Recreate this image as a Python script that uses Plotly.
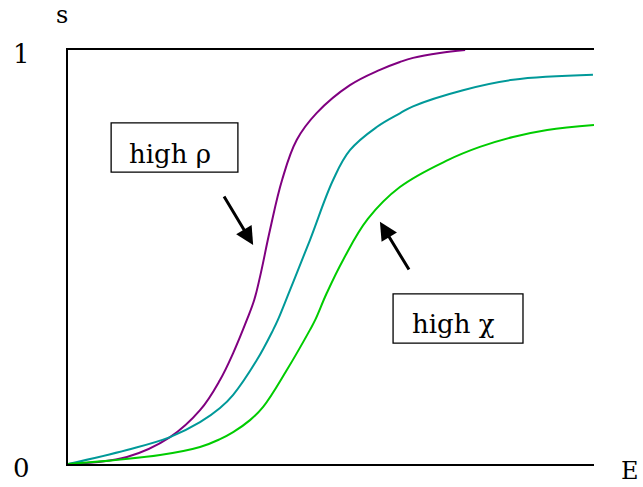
import plotly.graph_objects as go

# curve: E (0..10) and s (0..1)
e_rho = [0, 1.12, 1.94, 2.51, 2.89, 3.14, 3.40, 3.54, 3.65, 3.84, 4.07, 4.35, 4.73, 5.36, 5.93, 6.31, 6.56, 7.07, 7.55]
s_rho = [0, 0.017, 0.065, 0.130, 0.203, 0.268, 0.348, 0.396, 0.452, 0.565, 0.686, 0.783, 0.848, 0.915, 0.952, 0.971, 0.981, 0.993, 1.0]

e_mid = [0, 1.12, 1.94, 2.51, 2.89, 3.14, 3.59, 3.90, 3.99, 4.22, 4.60, 5.04, 5.36, 5.87, 6.31, 6.56, 7.51, 8.46, 9.98]
s_mid = [0, 0.034, 0.065, 0.101, 0.135, 0.167, 0.251, 0.324, 0.348, 0.420, 0.541, 0.686, 0.758, 0.814, 0.847, 0.864, 0.903, 0.928, 0.940]

e_chi = [0, 1.75, 2.51, 2.89, 3.14, 3.46, 3.71, 4.16, 4.60, 4.70, 4.92, 5.23, 5.70, 6.31, 7.22, 7.83, 8.46, 9.11, 10.0]
s_chi = [0, 0.022, 0.041, 0.060, 0.077, 0.106, 0.138, 0.227, 0.324, 0.348, 0.413, 0.493, 0.592, 0.669, 0.734, 0.766, 0.790, 0.807, 0.819]

FONT = "DejaVu Serif"

fig = go.Figure()
for xs, ys, col in [(e_rho, s_rho, "#800080"), (e_mid, s_mid, "#009999"), (e_chi, s_chi, "#00cc00")]:
    fig.add_trace(go.Scatter(x=xs, y=ys, mode="lines",
                             line=dict(color=col, width=2, shape="spline", smoothing=1.1),
                             hoverinfo="skip"))

# label boxes
fig.add_shape(type="rect", x0=0.82, x1=3.23, y0=0.705, y1=0.824, line=dict(color="black", width=1.3))
fig.add_shape(type="rect", x0=6.18, x1=8.65, y0=0.292, y1=0.411, line=dict(color="black", width=1.3))

annos = [
    dict(x=1.94, y=0.748, text="high ρ", showarrow=False, font=dict(size=26)),
    dict(x=7.32, y=0.338, text="high χ", showarrow=False, font=dict(size=26)),
    dict(x=3.52, y=0.529, ax=2.95, ay=0.650, axref="x", ayref="y", text="", showarrow=True,
         arrowhead=2, arrowsize=1.2, arrowwidth=3, arrowcolor="black"),
    dict(x=5.93, y=0.585, ax=6.50, ay=0.466, axref="x", ayref="y", text="", showarrow=True,
         arrowhead=2, arrowsize=1.2, arrowwidth=3, arrowcolor="black"),
    dict(x=-0.011, y=1.084, xref="paper", yref="paper", text="s", showarrow=False, font=dict(size=24)),
    dict(x=-0.089, y=0.990, xref="paper", yref="paper", text="1", showarrow=False, font=dict(size=26)),
    dict(x=-0.089, y=-0.010, xref="paper", yref="paper", text="0", showarrow=False, font=dict(size=26)),
    dict(x=1.068, y=-0.017, xref="paper", yref="paper", text="E", showarrow=False, font=dict(size=24)),
]
for a in annos:
    fig.add_annotation(xanchor="center", yanchor="middle", **a)

fig.update_layout(
    width=643, height=487,
    margin=dict(l=68, r=49, t=50, b=23, autoexpand=False),
    plot_bgcolor="white", paper_bgcolor="white",
    showlegend=False,
    font=dict(family=FONT, color="black"),
    xaxis=dict(range=[0, 10], showgrid=False, zeroline=False, showticklabels=False, ticks="",
               showline=True, mirror=True, linecolor="black", linewidth=2),
    yaxis=dict(range=[0, 1], showgrid=False, zeroline=False, showticklabels=False, ticks="",
               showline=True, linecolor="black", linewidth=2),
)

# drop the browser's default 8px body margin so the figure fills the window
fig.write_html("out.html", config={"displayModeBar": False},
               post_script="document.body.style.margin = '0';")
